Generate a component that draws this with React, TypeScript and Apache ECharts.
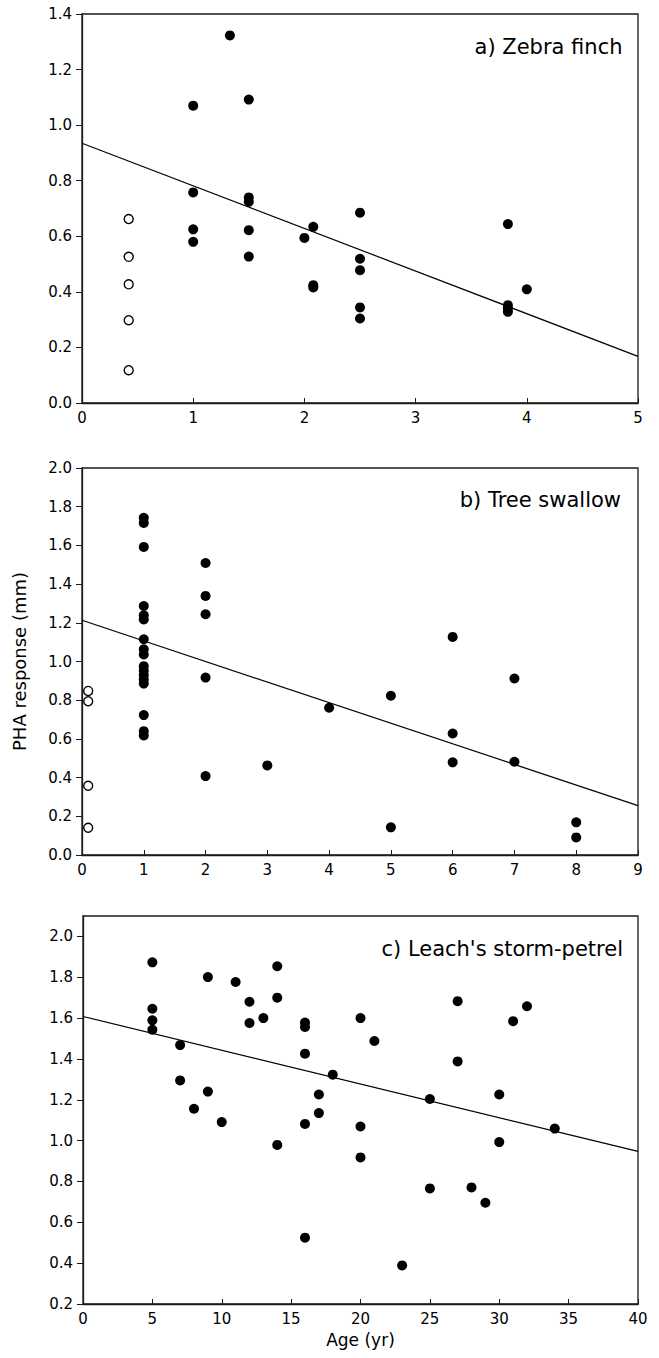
import React, { useEffect, useRef } from "react";
import * as echarts from "echarts";

// ---------- Panel a) Zebra finch ----------
const zebraJuvAge = [0.42, 0.42, 0.42, 0.42, 0.42];
const zebraJuvPHA = [0.662, 0.526, 0.427, 0.298, 0.118];
const zebraAdultAge = [1, 1, 1, 1, 1.33, 1.5, 1.5, 1.5, 1.5, 1.5, 2, 2.08, 2.08, 2.08, 2.5, 2.5, 2.5, 2.5, 2.5, 3.83, 3.83, 3.83, 3.83, 4];
const zebraAdultPHA = [1.07, 0.758, 0.625, 0.58, 1.323, 1.092, 0.74, 0.724, 0.622, 0.527, 0.594, 0.634, 0.424, 0.416, 0.685, 0.519, 0.478, 0.344, 0.304, 0.644, 0.352, 0.34, 0.328, 0.409];
const zebraFitX = [0, 5];
const zebraFitY = [0.935, 0.168];

// ---------- Panel b) Tree swallow ----------
const swallowJuvAge = [0.1, 0.1, 0.1, 0.1];
const swallowJuvPHA = [0.848, 0.795, 0.358, 0.141];
const swallowAdultAge = [
  1, 1, 1, 1, 1, 1, 1, 1, 1, 1, 1, 1, 1, 1, 1, 1, 1,
  2, 2, 2, 2, 2, 3, 4, 5, 5, 6, 6, 6, 7, 7, 8, 8,
];
const swallowAdultPHA = [
  1.743, 1.716, 1.592, 1.287, 1.239, 1.217, 1.115, 1.063, 1.036, 0.976, 0.952, 0.929, 0.907, 0.886, 0.723, 0.64, 0.618,
  1.509, 1.339, 1.244, 0.917, 0.408, 0.463, 0.761, 0.823, 0.143, 1.127, 0.628, 0.479, 0.912, 0.482, 0.169, 0.091,
];
const swallowFitX = [0, 9];
const swallowFitY = [1.213, 0.255];

// ---------- Panel c) Leach's storm-petrel ----------
const petrelAge = [
  5, 5, 5, 5, 7, 7, 8, 9, 9, 10, 11, 12, 12, 13, 14, 14, 14,
  16, 16, 16, 16, 16, 17, 17, 18, 20, 20, 20, 21, 23, 25, 25,
  27, 27, 28, 29, 30, 30, 31, 32, 34,
];
const petrelPHA = [
  1.873, 1.646, 1.589, 1.543, 1.468, 1.295, 1.156, 1.801, 1.24, 1.091, 1.777, 1.68, 1.576, 1.6, 1.854, 1.7, 0.979,
  1.578, 1.557, 1.426, 1.082, 0.525, 1.226, 1.135, 1.323, 1.6, 1.069, 0.918, 1.488, 0.389, 1.204, 0.766,
  1.683, 1.388, 0.771, 0.696, 1.226, 0.993, 1.585, 1.658, 1.059,
];
const petrelFitX = [0, 40];
const petrelFitY = [1.608, 0.947];

// ---------- Titles / axis text ----------
const panelTitles = ["a) Zebra finch", "b) Tree swallow", "c) Leach's storm-petrel"];
const yAxisName = "PHA response (mm)";
const xAxisName = "Age (yr)";
const petrelYTicks = [0.2, 0.4, 0.6, 0.8, 1.0, 1.2, 1.4, 1.6, 1.8, 2.0];

const pairs = (xs: number[], ys: number[]) => xs.map((x, i) => [x, ys[i]]);

const FONT = "DejaVu Sans";
const AXIS_COLOR = "#1a1a1a";
const TICK_FONT = 15;

export default function App() {
  const ref = useRef<HTMLDivElement>(null);

  useEffect(() => {
    if (!ref.current) return;
    const chart = echarts.init(ref.current, undefined, { renderer: "svg" });

    const grids = [
      { left: 82, top: 14, width: 556, height: 389 },
      { left: 82, top: 468, width: 556, height: 387 },
      { left: 83, top: 916, width: 555, height: 388 },
    ].map((g) => ({
      ...g,
      show: true,
      borderColor: AXIS_COLOR,
      borderWidth: 1.3,
      backgroundColor: "transparent",
    }));

    const baseX = (gi: number, max: number, interval: number, extra: any = {}) => ({
      type: "value",
      gridIndex: gi,
      min: 0,
      max,
      interval,
      axisLine: { show: true, lineStyle: { color: AXIS_COLOR, width: 1.3 } },
      axisTick: { show: true, inside: true, length: 5, lineStyle: { color: AXIS_COLOR, width: 1 } },
      axisLabel: { show: true, color: "#000", fontFamily: FONT, fontSize: TICK_FONT, margin: 7 },
      splitLine: { show: false },
      ...extra,
    });

    const baseY = (gi: number, min: number, max: number, extra: any = {}) => ({
      type: "value",
      gridIndex: gi,
      min,
      max,
      interval: 0.2,
      axisLine: { show: true, lineStyle: { color: AXIS_COLOR, width: 1.3 } },
      axisTick: { show: true, inside: false, length: 6, lineStyle: { color: AXIS_COLOR, width: 1 } },
      axisLabel: {
        show: true,
        color: "#000",
        fontFamily: FONT,
        fontSize: TICK_FONT,
        margin: 10,
        formatter: (v: number) => v.toFixed(1),
      },
      splitLine: { show: false },
      ...extra,
    });

    const filled = (xi: number, data: number[][]) => ({
      type: "scatter",
      xAxisIndex: xi,
      yAxisIndex: xi,
      data,
      symbol: "circle",
      symbolSize: 10,
      itemStyle: { color: "#000", opacity: 1 },
      z: 3,
      silent: true,
    });
    const open = (xi: number, data: number[][]) => ({
      type: "scatter",
      xAxisIndex: xi,
      yAxisIndex: xi,
      data,
      symbol: "circle",
      symbolSize: 9,
      itemStyle: { color: "#fff", borderColor: "#000", borderWidth: 1.4, opacity: 1 },
      z: 3,
      silent: true,
    });
    const fit = (xi: number, data: number[][]) => ({
      type: "line",
      xAxisIndex: xi,
      yAxisIndex: xi,
      data,
      showSymbol: false,
      symbol: "none",
      lineStyle: { color: "#000", width: 1.2 },
      z: 2,
      silent: true,
    });

    const titleText = (text: string, x: number, y: number) => ({
      type: "text",
      x,
      y,
      style: {
        text,
        fill: "#000",
        font: `21px "${FONT}"`,
        textAlign: "right",
        textVerticalAlign: "middle",
      },
    });

    chart.setOption({
      animation: false,
      backgroundColor: "#fff",
      grid: grids,
      xAxis: [
        baseX(0, 5, 1),
        baseX(1, 9, 1),
        baseX(2, 40, 5, {
          name: xAxisName,
          nameLocation: "middle",
          nameGap: 27,
          nameTextStyle: { color: "#000", fontFamily: FONT, fontSize: 17 },
        }),
      ],
      yAxis: [
        baseY(0, 0, 1.4),
        baseY(1, 0, 2.0, {
          name: yAxisName,
          nameLocation: "middle",
          nameRotate: 90,
          nameGap: 54,
          nameTextStyle: { color: "#000", fontFamily: FONT, fontSize: 18 },
        }),
        baseY(2, 0.2, 2.1, {
          axisTick: {
            show: true,
            inside: false,
            length: 6,
            lineStyle: { color: AXIS_COLOR, width: 1 },
            customValues: petrelYTicks,
          },
          axisLabel: {
            show: true,
            color: "#000",
            fontFamily: FONT,
            fontSize: TICK_FONT,
            margin: 10,
            customValues: petrelYTicks,
            formatter: (v: number) => v.toFixed(1),
          },
        }),
      ],
      series: [
        fit(0, pairs(zebraFitX, zebraFitY)),
        filled(0, pairs(zebraAdultAge, zebraAdultPHA)),
        open(0, pairs(zebraJuvAge, zebraJuvPHA)),
        fit(1, pairs(swallowFitX, swallowFitY)),
        filled(1, pairs(swallowAdultAge, swallowAdultPHA)),
        open(1, pairs(swallowJuvAge, swallowJuvPHA)),
        fit(2, pairs(petrelFitX, petrelFitY)),
        filled(2, pairs(petrelAge, petrelPHA)),
      ],
      graphic: [
        titleText(panelTitles[0], 622.5, 47),
        titleText(panelTitles[1], 621, 499.5),
        titleText(panelTitles[2], 623, 948.5),
      ],
    });

    return () => chart.dispose();
  }, []);

  return (
    <div
      ref={ref}
      style={{ position: "absolute", left: 0, top: 0, width: 659, height: 1358, background: "#fff" }}
    />
  );
}
